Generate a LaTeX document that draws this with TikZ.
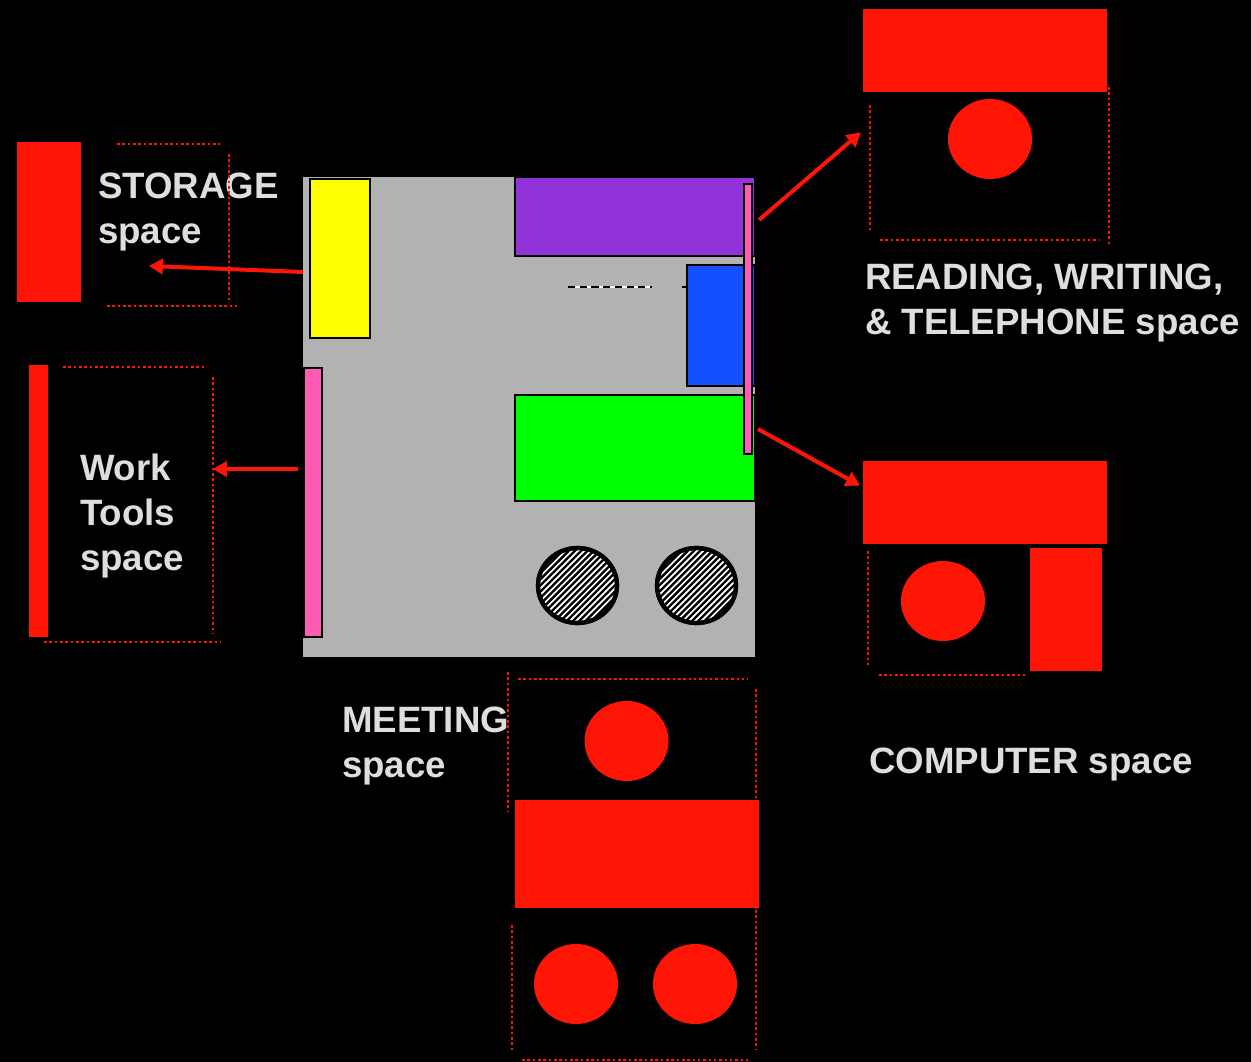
\documentclass[tikz,border=0pt]{standalone}
\usepackage{fontspec}
\setmainfont{Liberation Sans}
\usetikzlibrary{arrows.meta}
\definecolor{redc}{HTML}{FF1505}
\definecolor{greyc}{HTML}{B2B2B2}
\definecolor{purplec}{HTML}{9133D9}
\definecolor{bluec}{HTML}{1450FF}
\definecolor{greenc}{HTML}{00FF00}
\definecolor{pinkc}{HTML}{FF5AB4}
\definecolor{yellowc}{HTML}{FFFF00}
\definecolor{textc}{HTML}{DEDEDE}
\newcommand{\rectnode}[6]{\node[#6, anchor=north west, inner sep=0pt, outer sep=0pt,
  minimum width={(#4-#2)*0.03cm}, minimum height={(#5-#3)*0.03cm}] (#1) at (#2,#3) {};}
\newcommand{\ellnode}[6]{\node[#6, ellipse, inner sep=0pt, outer sep=0pt,
  minimum width={2*#4*0.03cm}, minimum height={2*#5*0.03cm}] (#1) at (#2,#3) {};}
\usetikzlibrary{shapes.geometric}
\tikzset{
  redbox/.style={fill=redc},
  redball/.style={fill=redc},
  zone/.style={draw=black, line width=2pt},
  dots/.style={draw=redc, line width=1.9pt, dash pattern=on 2.2pt off 2.35pt},
  flow/.style={draw=redc, line width=3.4pt, -{Triangle[length=12pt,width=13pt]}, shorten >=-1pt},
  label/.style={text=textc, font=\bfseries\fontsize{31.3pt}{38pt}\selectfont, anchor=base west, inner sep=0pt, outer sep=0pt},
  stool/.style={draw=black, line width=3.6pt, fill=white},
}
\begin{document}
\begin{tikzpicture}[x=0.03cm,y=-0.03cm]
\useasboundingbox (0,0) rectangle (1251,1062);
\fill[black] (0,0) rectangle (1251,1062);

% floor plan
\rectnode{floor}{303}{177}{755}{657}{fill=greyc}
\rectnode{purple}{515}{177}{755}{256}{zone, fill=purplec}
\rectnode{blue}{687}{265}{755}{386}{zone, fill=bluec}
\rectnode{green}{515}{395}{755}{501}{zone, fill=greenc}
\rectnode{yellow}{310}{179}{370}{338}{zone, fill=yellowc}
\rectnode{pinkright}{744}{184}{752}{454}{zone, fill=pinkc}
\rectnode{pinkleft}{304}{368}{322}{637}{zone, fill=pinkc}
\fill[greyc] (755.5,170) rectangle (757,170);
% dashed mark
\coordinate (dasha) at (568,287); \coordinate (dashb) at (652,287);
\coordinate (dashc) at (682,287); \coordinate (dashd) at (687,287);
\draw[white, line width=0.9pt] (dasha) -- (dashb);
\draw[black, line width=0.9pt, dash pattern=on 6.1pt off 3.9pt] (dasha) -- (dashb);
\draw[black, line width=0.9pt] (dashc) -- (dashd);

% stools
\foreach \n/\cx in {stoola/577.5,stoolb/696.5}{
  \ellnode{\n}{\cx}{585.5}{39.5}{37.5}{stool}
  \begin{scope}
    \clip (\cx,585.5) ellipse [x radius=38, y radius=36];
    \foreach \k in {-16,...,16}{
      \draw[black, line width=2pt] (\cx+\k*6.2-45,585.5+45) -- (\cx+\k*6.2+45,585.5-45);
    }
  \end{scope}
  \draw[black, line width=3.6pt] (\cx,585.5) ellipse [x radius=39.5, y radius=37.5];
}

% red furniture
\rectnode{storagebox}{17}{142}{81}{302}{redbox}
\rectnode{toolsbox}{29}{365}{48}{637}{redbox}
\rectnode{readbox}{863}{9}{1107}{92}{redbox}
\rectnode{compbox}{863}{461}{1107}{544}{redbox}
\rectnode{compside}{1030}{548}{1102}{671}{redbox}
\rectnode{meetbox}{515}{800}{759}{908}{redbox}
\ellnode{readball}{990}{139}{42}{40}{redball}
\ellnode{compball}{943}{601}{42}{40}{redball}
\ellnode{meetballa}{626.5}{741}{42}{40}{redball}
\ellnode{meetballb}{576}{984}{42}{40}{redball}
\ellnode{meetballc}{695}{984}{42}{40}{redball}

% labels
\node[label] (storagea) at (98,198) {STORAGE};
\node[label] (storageb) at (98,243) {space};
\node[label] (reada) at (865,289) {READING, WRITING,};
\node[label] (readb) at (865,334) {\& TELEPHONE space};
\node[label] (toolsa) at (80,480) {Work};
\node[label] (toolsb) at (80,525) {Tools};
\node[label] (toolsc) at (80,570) {space};
\node[label] (meeta) at (342,732) {MEETING};
\node[label] (meetb) at (342,777) {space};
\node[label] (compa) at (869,773) {COMPUTER space};

% dotted zone outlines
\draw[dots] (117,144) -- (220,144);
\draw[dots] (229,154) -- (229,300);
\draw[dots] (107,306) -- (237,306);
\draw[dots] (63,367) -- (204,367);
\draw[dots] (213,377) -- (213,634);
\draw[dots] (44,642) -- (221,642);
\draw[dots] (870,105) -- (870,231);
\draw[dots] (1109,87) -- (1109,245);
\draw[dots] (880,240) -- (1100,240);
\draw[dots] (868,551) -- (868,665);
\draw[dots] (879,675) -- (1025,675);
\draw[dots] (508,672) -- (508,812);
\draw[dots] (518,679) -- (748,679);
\draw[dots] (756,689) -- (756,800);
\draw[dots] (512,925) -- (512,1050);
\draw[dots] (756,910) -- (756,1050);
\draw[dots] (522,1060) -- (750,1060);

% arrows
\coordinate (fs) at (303,272); \coordinate (ts) at (150,266);
\coordinate (fw) at (298,469); \coordinate (tw) at (214,469);
\coordinate (fr) at (759,220); \coordinate (tr) at (860,133);
\coordinate (fc) at (758,429); \coordinate (tc) at (859,485);
\draw[flow] (fs) -- (ts);
\draw[flow] (fw) -- (tw);
\draw[flow] (fr) -- (tr);
\draw[flow] (fc) -- (tc);
\end{tikzpicture}
\end{document}
